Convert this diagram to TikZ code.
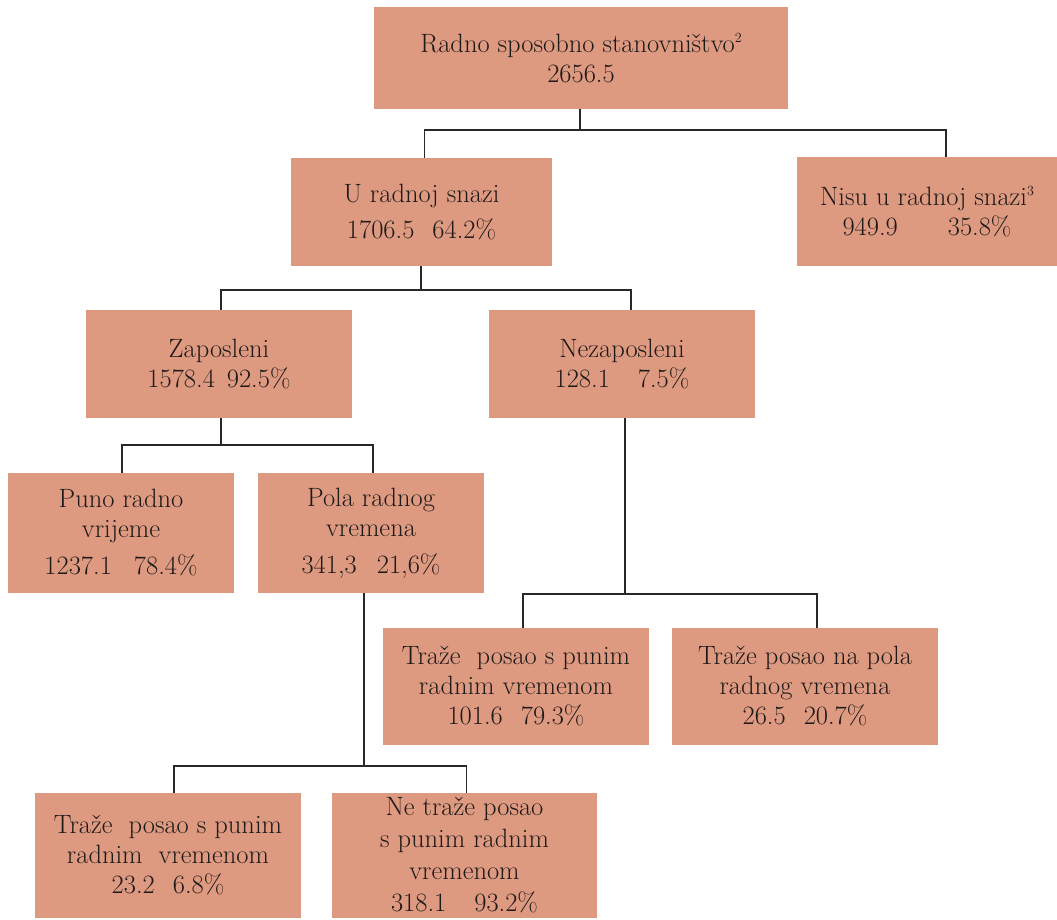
\documentclass[tikz,border=0pt]{standalone}
\usepackage{fontspec}
\definecolor{boxfill}{RGB}{222,154,129}
\definecolor{linecol}{RGB}{40,40,40}
\definecolor{txtcol}{RGB}{30,26,24}
\newcommand{\supnum}[1]{\raisebox{0.38em}{\fontsize{14}{14}\selectfont #1}}
\begin{document}
\begin{tikzpicture}[x=1pt,y=-1pt,
  box/.style={fill=boxfill,draw=none,align=center,inner sep=0pt,
    font=\fontsize{26.5}{30}\selectfont,text=txtcol},
  conn/.style={draw=linecol,line width=1.4pt}]
\useasboundingbox (0,0) rectangle (1057,919);
\node[box,minimum width=414,minimum height=102] (top) at (581,58) {Radno sposobno stanovništvo\supnum{2}\\2656.5};
\node[box,minimum width=261,minimum height=108] (u) at (421.5,212) {U radnoj snazi\\[6pt]1706.5\hspace{18pt}64.2\%};
\node[box,minimum width=260,minimum height=109] (nisu) at (927,211.5) {Nisu u radnoj snazi\supnum{3}\\949.9\hspace{50pt}35.8\%};
\node[box,minimum width=266,minimum height=108] (zap) at (219,364) {Zaposleni\\1578.4\hspace{12pt}92.5\%};
\node[box,minimum width=266,minimum height=108] (nez) at (622,364) {Nezaposleni\\128.1\hspace{28pt}7.5\%};
\node[box,minimum width=226,minimum height=120] (puno) at (121,533) {Puno radno\\vrijeme\\[7pt]1237.1\hspace{22pt}78.4\%};
\node[box,minimum width=226,minimum height=120] (pola) at (371,533) {Pola radnog\\vremena\\[7pt]341,3\hspace{20pt}21,6\%};
\node[box,minimum width=266,minimum height=117] (tpun) at (516,686.5) {Traže\ \ posao s punim\\radnim vremenom\\101.6\hspace{18pt}79.3\%};
\node[box,minimum width=266,minimum height=117] (tpol) at (805,686.5) {Traže posao na pola\\radnog vremena\\26.5\hspace{18pt}20.7\%};
\node[box,minimum width=266,minimum height=125] (tpun2) at (168,855.5) {Traže\ \ posao s punim\\radnim\ \ vremenom\\23.2\hspace{18pt}6.8\%};
\node[box,minimum width=265,minimum height=125] (ntr) at (464.5,855.5) {Ne traže posao\\[2pt]s punim radnim\\[2pt]vremenom\\[2pt]318.1\hspace{28pt}93.2\%};
% connectors
\coordinate (b1) at (580,130);
\draw[conn] (top.south -| b1) -- (b1);
\draw[conn] ([xshift=3pt]u.north) |- (b1) -| ([xshift=19pt]nisu.north);
\coordinate (b2) at (421,290);
\draw[conn] (u.south -| b2) -- (b2);
\draw[conn] ([xshift=2pt]zap.north) |- (b2) -| ([xshift=9pt]nez.north);
\coordinate (b3) at (221,445);
\draw[conn] (zap.south -| b3) -- (b3);
\draw[conn] ([xshift=1pt]puno.north) |- (b3) -| ([xshift=2pt]pola.north);
\coordinate (b4) at (625,594);
\draw[conn] (nez.south -| b4) -- (b4);
\draw[conn] ([xshift=7pt]tpun.north) |- (b4) -| ([xshift=12pt]tpol.north);
\coordinate (b5) at (364,766);
\draw[conn] (pola.south -| b5) -- (b5);
\draw[conn] ([xshift=6pt]tpun2.north) |- (b5) -| ([xshift=2pt]ntr.north);
\end{tikzpicture}
\end{document}
